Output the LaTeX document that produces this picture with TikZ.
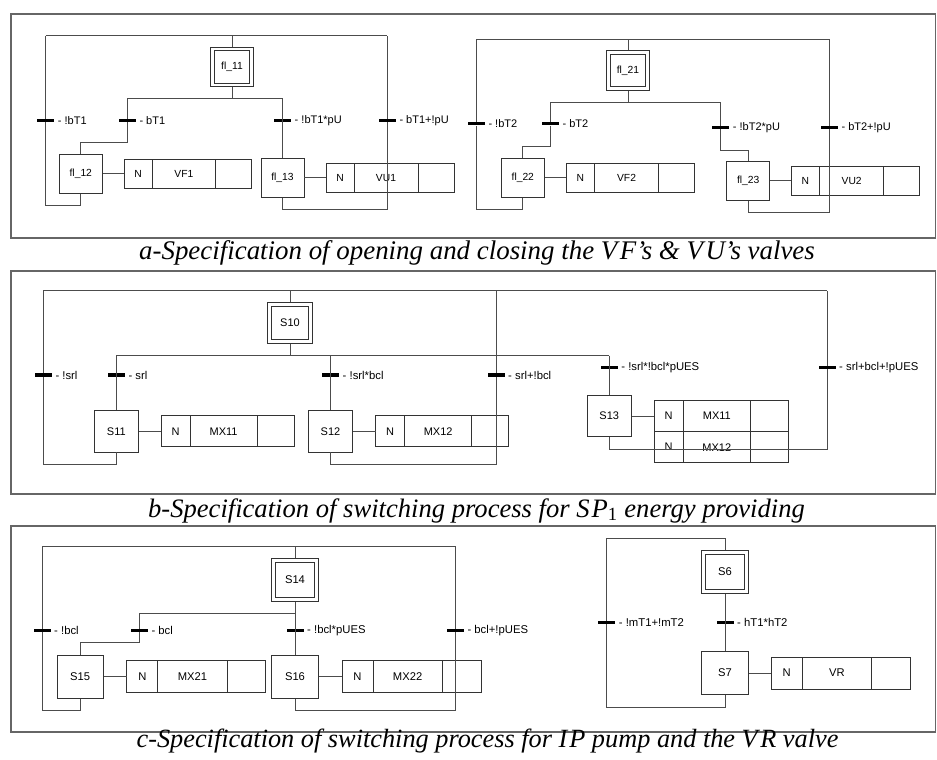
\documentclass[tikz,border=0pt]{standalone}
\usepackage{fontspec}
\setmainfont{Liberation Serif}
\setsansfont{Liberation Sans}
\usetikzlibrary{positioning}
\definecolor{wire}{gray}{0.30}
\definecolor{framec}{gray}{0.40}
\tikzset{
    link/.style={draw=wire, line width=0.8pt}, % loops and branches
    stepbox/.style={draw=black!80, line width=0.8pt, inner sep=0pt},
    initframe/.style={draw=black!80, line width=0.8pt, inner sep=0pt},
    initstep/.style={stepbox, label={[initframe]center:{}}},
    trans/.style={fill=black, minimum width=17pt, minimum height=3.2pt, inner sep=0pt, label distance=3pt},
    act/.style={draw=black!80, line width=0.8pt, inner sep=0pt, outer sep=0pt, minimum width=#1},
    frame/.style={draw=framec, line width=1.3pt},
    caption/.style={font=\itshape\fontsize{#1}{28}\selectfont, anchor=base, inner sep=0pt},
}

\begin{document}
\begin{tikzpicture}[x=1pt, y=-1pt]
    \useasboundingbox (0,0) rectangle (937,760);

    % Cadres
    \draw[frame] (11,14) rectangle (935.5,238);
    \draw[frame] (11,271) rectangle (935.5,494);
    \draw[frame] (11,526) rectangle (935.5,732);

    % ---------- a ----------
    \begin{scope}[font=\sffamily\fontsize{10.3}{12}\selectfont,
        every label/.append style={font=\sffamily\fontsize{11}{12}\selectfont},
        stepbox/.append style={minimum width=43pt, minimum height=39pt},
        initstep/.append style={minimum width=35.7pt, minimum height=32.6pt},
        initframe/.append style={minimum width=43pt, minimum height=39.6pt},
        act/.append style={minimum height=29.3pt}]
        % Etapes
        \node[initstep] (fl11) at (232,67) {fl\_11};
        \node[stepbox] (fl12) at (80.8,173.8) {fl\_12};
        \node[stepbox] (fl13) at (282.5,177.8) {fl\_13};
        \node[initstep] (fl21) at (628,70.5) {fl\_21};
        \node[stepbox] (fl22) at (522.8,177.8) {fl\_22};
        \node[stepbox] (fl23) at (748.2,180.8) {fl\_23};

        % Transitions
        \node[trans, label=right:{- !bT1}] (t11) at (45.7,120.3) {};
        \node[trans, label=right:{- bT1}] (t12) at (127.3,120.3) {};
        \node[trans, label=right:{- !bT1*pU}] (t13) at (282.5,120.3) {};
        \node[trans, label=right:{- bT1+!pU}] (t14) at (387.3,120.3) {};
        \node[trans, label=right:{- !bT2}] (t21) at (476.3,123.7) {};
        \node[trans, label=right:{- bT2}] (t22) at (550.3,123.7) {};
        \node[trans, label=right:{- !bT2*pU}] (t23) at (720.7,127.3) {};
        \node[trans, label=right:{- bT2+!pU}] (t24) at (829.3,127.3) {};
        \coordinate (aTL) at (45.7,35.7);
        \coordinate (aTR) at (387.3,35.7);
        \coordinate (aDiv) at (232,98.3);
        \coordinate (a2TL) at (476.3,39.3);
        \coordinate (a2TR) at (829.3,39.3);
        \coordinate (a2Div) at (628,102);

        % Actions
        \node[act=28pt, right=21.4pt of fl12] (a12n) {N};
        \node[act=63.6pt, right=0pt of a12n] (a12v) {VF1};
        \node[act=36pt, right=0pt of a12v] (a12e) {};
        \node[act=28pt, right=21.6pt of fl13] (a13n) {N};
        \node[act=64pt, right=0pt of a13n] (a13v) {VU1};
        \node[act=36pt, right=0pt of a13v] (a13e) {};
        \node[act=28.3pt, right=21.4pt of fl22] (a22n) {N};
        \node[act=64.3pt, right=0pt of a22n] (a22v) {VF2};
        \node[act=35.7pt, right=0pt of a22v] (a22e) {};
        \node[act=28.6pt, right=21pt of fl23] (a23n) {N};
        \node[act=64pt, right=0pt of a23n] (a23v) {VU2};
        \node[act=36pt, right=0pt of a23v] (a23e) {};

        % Liaisons
        \draw[link] (aTL) -- (aTR);
        \draw[link] (fl11.north) ++(0,-3.5) -- (fl11.north |- aTL);
        \draw[link] (fl11.south) ++(0,3.5) -- (fl11.south |- aDiv);
        \draw[link] (t12 |- aDiv) -- (t13 |- aDiv);
        \draw[link] (t12 |- aDiv) -- (t12) -- ++(0,22.4) -| (fl12.north);
        \draw[link] (t13 |- aDiv) -- (fl13.north);
        \draw[link] (fl12.south) -- ++(0,12) -| (t11) -- (aTL);
        \draw[link] (fl13.south) -- ++(0,11.7) -| (t14) -- (aTR);
        \draw[link] (fl12) -- (a12n);
        \draw[link] (fl13) -- (a13n);

        \draw[link] (a2TL) -- (a2TR);
        \draw[link] (fl21.north) ++(0,-3.5) -- (fl21.north |- a2TL);
        \draw[link] (fl21.south) ++(0,3.5) -- (fl21.south |- a2Div);
        \draw[link] (t22 |- a2Div) -- (t23 |- a2Div);
        \draw[link] (t22 |- a2Div) -- (t22) -- ++(0,22.6) -| (fl22.north);
        \draw[link] (t23 |- a2Div) -- (t23) -- ++(0,22.7) -| (fl23.north);
        \draw[link] (fl22.south) -- ++(0,11.4) -| (t21) -- (a2TL);
        \draw[link] (fl23.south) -- ++(0,11.6) -| (t24) -- (a2TR);
        \draw[link] (fl22) -- (a22n);
        \draw[link] (fl23) -- (a23n);
    \end{scope}

    % ---------- b ----------
    \begin{scope}[font=\sffamily\fontsize{11}{12}\selectfont,
        every label/.append style={font=\sffamily\fontsize{11.3}{12}\selectfont},
        stepbox/.append style={minimum width=44.6pt, minimum height=41.3pt},
        initstep/.append style={minimum width=37pt, minimum height=33.4pt},
        initframe/.append style={minimum width=44.6pt, minimum height=41pt},
        act/.append style={minimum height=31pt}]
        % Etapes
        \node[initstep] (S10) at (290,322.8) {S10};
        \node[stepbox] (S11) at (116.3,431.3) {S11};
        \node[stepbox] (S12) at (330.5,431.3) {S12};
        \node[stepbox] (S13) at (609.2,416.2) {S13};

        % Transitions
        \node[trans, label=right:{- !srl}] (tb1) at (43.3,375) {};
        \node[trans, label=right:{- srl}] (tb2) at (116.3,375) {};
        \node[trans, label=right:{- !srl*bcl}] (tb3) at (330.5,375) {};
        \node[trans, label=right:{- srl+!bcl}] (tb4) at (496,375) {};
        \node[trans, label=right:{- !srl*!bcl*pUES}] (tb5) at (609.2,367.3) {};
        \node[trans, label=right:{- srl+bcl+!pUES}] (tb6) at (827,367.3) {};
        \coordinate (bTL) at (43.3,290.7);
        \coordinate (bTR) at (827,290.7);
        \coordinate (bDiv) at (290,355.7);

        % Actions
        \node[act=29.3pt, right=22pt of S11] (b11n) {N};
        \node[act=66.7pt, right=0pt of b11n] (b11v) {MX11};
        \node[act=37.6pt, right=0pt of b11v] (b11e) {};
        \node[act=29.3pt, right=22.3pt of S12] (b12n) {N};
        \node[act=66.7pt, right=0pt of b12n] (b12v) {MX12};
        \node[act=37.3pt, right=0pt of b12v] (b12e) {};
        \node[act=29.4pt, right=22pt of S13] (b13n) {N};
        \node[act=67pt, right=0pt of b13n] (b13v) {MX11};
        \node[act=37.6pt, right=0pt of b13v] (b13e) {};
        \node[act=29.4pt, below=0pt of b13n] (b13n2) {N};
        \node[act=67pt, below=0pt of b13v] (b13v2) {MX12};
        \node[act=37.6pt, below=0pt of b13e] (b13e2) {};

        % Liaisons
        \draw[link] (bTL) -- (bTR);
        \draw[link] (S10.north) ++(0,-3.8) -- (S10.north |- bTL);
        \draw[link] (S10.south) ++(0,3.8) -- (S10.south |- bDiv);
        \draw[link] (tb2 |- bDiv) -- (tb5 |- bDiv);
        \draw[link] (tb2 |- bDiv) -- (S11.north);
        \draw[link] (tb3 |- bDiv) -- (S12.north);
        \draw[link] (tb5 |- bDiv) -- (S13.north);
        \draw[link] (S11.south) -- ++(0,12) -| (tb1) -- (bTL);
        \draw[link] (S12.south) -- ++(0,12) -| (tb4) -- (tb4 |- bTL);
        \draw[link] (S13.south) -- ++(0,12.3) -| (tb6) -- (bTR);
        \draw[link] (S11) -- (b11n);
        \draw[link] (S12) -- (b12n);
        \draw[link] (S13) -- (b13n);
    \end{scope}

    % ---------- c ----------
    \begin{scope}[font=\sffamily\fontsize{11.2}{12}\selectfont,
        every label/.append style={font=\sffamily\fontsize{11.3}{12}\selectfont},
        stepbox/.append style={minimum width=46.4pt, minimum height=42.8pt},
        initstep/.append style={minimum width=38.8pt, minimum height=35.2pt},
        initframe/.append style={minimum width=46.6pt, minimum height=43.2pt},
        act/.append style={minimum height=32pt}]
        % Etapes
        \node[initstep] (S14) at (295,580) {S14};
        \node[stepbox] (S15) at (80.2,676.8) {S15};
        \node[stepbox] (S16) at (295,676.8) {S16};
        \node[initstep] (S6) at (725,572) {S6};
        \node[stepbox] (S7) at (725,673) {S7};

        % Transitions
        \node[trans, label=right:{- !bcl}] (tc1) at (42,630.3) {};
        \node[trans, label=right:{- bcl}] (tc2) at (139.3,630.3) {};
        \node[trans, label=right:{- !bcl*pUES}] (tc3) at (295,630.3) {};
        \node[trans, label=right:{- bcl+!pUES}] (tc4) at (455.3,630.3) {};
        \node[trans, label=right:{- !mT1+!mT2}] (tc5) at (606.7,622.3) {};
        \node[trans, label=right:{- hT1*hT2}] (tc6) at (725,622.3) {};
        \coordinate (cTL) at (42,546);
        \coordinate (cTR) at (455.3,546);
        \coordinate (cDiv) at (295,613.7);
        \coordinate (dTL) at (606.7,538.3);

        % Actions
        \node[act=31pt, right=23pt of S15] (c15n) {N};
        \node[act=69.4pt, right=0pt of c15n] (c15v) {MX21};
        \node[act=38.6pt, right=0pt of c15v] (c15e) {};
        \node[act=31pt, right=23.3pt of S16] (c16n) {N};
        \node[act=69.4pt, right=0pt of c16n] (c16v) {MX22};
        \node[act=38.6pt, right=0pt of c16v] (c16e) {};
        \node[act=30.7pt, right=22.7pt of S7] (c7n) {N};
        \node[act=69.6pt, right=0pt of c7n] (c7v) {VR};
        \node[act=39pt, right=0pt of c7v] (c7e) {};

        % Liaisons
        \draw[link] (cTL) -- (cTR);
        \draw[link] (S14.north) ++(0,-4) -- (S14.north |- cTL);
        \draw[link] (S14.south) ++(0,4) -- (S16.north);
        \draw[link] (tc2 |- cDiv) -- (cDiv);
        \draw[link] (tc2 |- cDiv) -- (tc2) -- ++(0,12.4) -| (S15.north);
        \draw[link] (S15.south) -- ++(0,12) -| (tc1) -- (cTL);
        \draw[link] (S16.south) -- ++(0,12) -| (tc4) -- (cTR);
        \draw[link] (S15) -- (c15n);
        \draw[link] (S16) -- (c16n);

        \draw[link] (S6.north) ++(0,-4) |- (dTL);
        \draw[link] (S6.south) ++(0,4) -- (S7.north);
        \draw[link] (S7.south) -- ++(0,12.7) -| (tc5) -- (dTL);
        \draw[link] (S7) -- (c7n);
    \end{scope}

    % Legendes
    \node[caption=26.9] (capA) at (477,259) {a-Specification of opening and closing the V\kern2.5pt F’s \& V\kern2.5pt U’s valves};
    \node[caption=26.6] (capB) at (476.5,517) {b-Specification of switching process for S\kern2pt P\textsubscript{\upshape 1} energy providing};
    \node[caption=26.3] (capC) at (487.5,747) {c-Specification of switching process for I\kern2pt P pump and the V\kern2.5pt R valve};
\end{tikzpicture}
\end{document}
